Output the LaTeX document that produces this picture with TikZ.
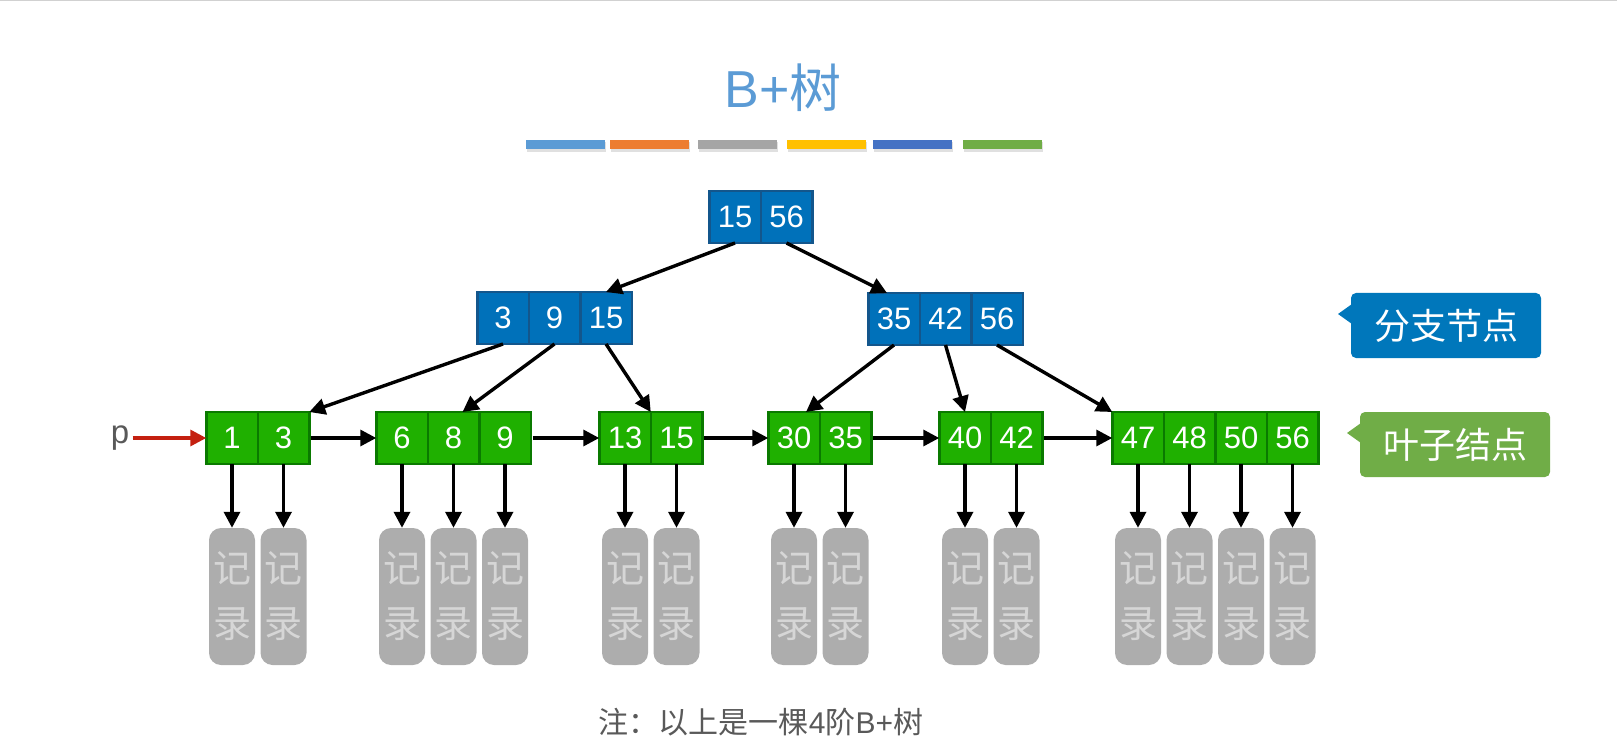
\documentclass[tikz,border=0pt]{standalone}
\usepackage{fontspec}
\setmainfont{Liberation Sans}
\newfontfamily\cjk{Noto Sans CJK SC}
\usetikzlibrary{positioning,arrows.meta}

\definecolor{titleblue}{HTML}{5B9BD5}
\definecolor{barblue}{HTML}{5B9BD5}
\definecolor{barorange}{HTML}{ED7D31}
\definecolor{bargray}{HTML}{A5A5A5}
\definecolor{bargold}{HTML}{FFC000}
\definecolor{bardarkblue}{HTML}{4472C4}
\definecolor{bargreen}{HTML}{70AD47}
\definecolor{innerfill}{HTML}{0071BA}
\definecolor{innerline}{HTML}{13568C}
\definecolor{leaffill}{HTML}{1FB000}
\definecolor{leafline}{HTML}{0A7A00}
\definecolor{recordfill}{HTML}{ADADAD}
\definecolor{recordtext}{HTML}{D6D6D6}
\definecolor{callblue}{HTML}{0077BB}
\definecolor{callgreen}{HTML}{70AD47}
\definecolor{pred}{HTML}{C42010}
\definecolor{pgray}{HTML}{595959}

\newcommand*{\leafy}{438}
\newcommand*{\recy}{596.5}

\begin{document}
\begin{tikzpicture}
[
	x=1pt, y=-1pt,
	cell/.style={draw,line width=2.5pt,minimum width=51.5pt,minimum height=52pt,inner sep=0pt,outer sep=0pt,text=white,font=\fontsize{31}{31}\selectfont},
	innercell/.style={cell,draw=innerline,fill=innerfill},
	leafcell/.style={cell,draw=leafline,fill=leaffill},
	record/.style={fill=recordfill,rounded corners=12pt,minimum width=46pt,minimum height=137pt,inner sep=0pt,text=recordtext,align=center,font=\cjk\fontsize{38}{55}\selectfont},
	callout/.style={minimum width=190pt,minimum height=65pt,rounded corners=5pt,inner sep=0pt,text=white,font=\cjk\fontsize{36}{36}\selectfont},
	arr/.style={-{Triangle[length=16pt,width=16pt]},line width=3.4pt}
]
	\useasboundingbox (0,0) rectangle (1617,743);

	% top rule
	\draw[black!18,line width=1.5pt] (0,0.75) -- (1617,0.75);

	% title
	\node[font=\fontsize{52}{52}\selectfont,text=titleblue] (title) at (783,88) {B+{\cjk 树}};
	\foreach \x/\c in {526/barblue,610/barorange,698/bargray,787/bargold,873/bardarkblue,963/bargreen}
	{
		\fill[black!12] (\x+1,142) rectangle (\x+80,152);
		\fill[\c] (\x,140) rectangle (\x+79,149);
	}

	% root
	\node[innercell] (r1) at (735,217) {15};
	\node[innercell,right=0pt of r1] (r2) {56};

	% branch nodes
	\node[innercell] (i1) at (503,318) {3};
	\node[innercell,right=0pt of i1] (i2) {9};
	\node[innercell,right=0pt of i2] (i3) {15};
	\node[innercell] (j1) at (894,319) {35};
	\node[innercell,right=0pt of j1] (j2) {42};
	\node[innercell,right=0pt of j2] (j3) {56};

	% leaves
	\node[leafcell] (a1) at (232,\leafy) {1};
	\node[leafcell,right=0pt of a1] (a2) {3};
	\node[leafcell] (b1) at (402,\leafy) {6};
	\node[leafcell,right=0pt of b1] (b2) {8};
	\node[leafcell,right=0pt of b2] (b3) {9};
	\node[leafcell] (c1) at (625,\leafy) {13};
	\node[leafcell,right=0pt of c1] (c2) {15};
	\node[leafcell] (d1) at (794,\leafy) {30};
	\node[leafcell,right=0pt of d1] (d2) {35};
	\node[leafcell] (e1) at (965,\leafy) {40};
	\node[leafcell,right=0pt of e1] (e2) {42};
	\node[leafcell] (f1) at (1138,\leafy) {47};
	\node[leafcell,right=0pt of f1] (f2) {48};
	\node[leafcell,right=0pt of f2] (f3) {50};
	\node[leafcell,right=0pt of f3] (f4) {56};

	% tree links
	\draw[arr] (r1.south) -- (i3.north);
	\draw[arr] (r2.south) -- ([xshift=-7pt]j1.north);
	\draw[arr] (i1.south) -- (a2.north east);
	\draw[arr] (i2.south) -- ([xshift=9pt]b2.north);
	\draw[arr] (i3.south) -- (c1.north east);
	\draw[arr] (j1.south) -- ([xshift=12pt]d1.north);
	\draw[arr] (j2.south) -- (e1.north);
	\draw[arr] (j3.south) -- (f1.north west);

	% leaf chain
	\draw[arr,shorten <=2pt] (a2.east) -- (b1.west);
	\draw[arr,shorten <=2pt] (b3.east) -- (c1.west);
	\draw[arr,shorten <=2pt] (c2.east) -- (d1.west);
	\draw[arr,shorten <=2pt] (d2.east) -- (e1.west);
	\draw[arr,shorten <=2pt] (e2.east) -- (f1.west);

	% pointer p
	\node[text=pgray,font=\fontsize{33}{33}\selectfont] (p) at (120,\leafy) {p};
	\draw[arr,draw=pred,fill=pred] (p.east) -- (a1.west);

	% records
	\coordinate (recline) at (0,\recy);
	\foreach \c in {a1,a2,b1,b2,b3,c1,c2,d1,d2,e1,e2,f1,f2,f3,f4}
	{
		\node[record] (rec-\c) at (\c |- recline) {记\\录};
		\draw[arr] (\c.south) -- (rec-\c.north);
	}

	% callouts
	\node[callout,fill=callblue] (branch) at (1446,325.5) {分支节点};
	\fill[callblue] (1352,304) -- (1338,314) -- (1352,324) -- cycle;
	\node[callout,fill=callgreen] (leaflbl) at (1455,444.5) {叶子结点};
	\fill[callgreen] (1361,423) -- (1347,433) -- (1361,443) -- cycle;

	% note
	\node[text=pgray,font=\fontsize{30}{30}\selectfont] (note) at (761,722) {{\cjk 注：以上是一棵}4{\cjk 阶}B+{\cjk 树}};

\end{tikzpicture}
\end{document}
